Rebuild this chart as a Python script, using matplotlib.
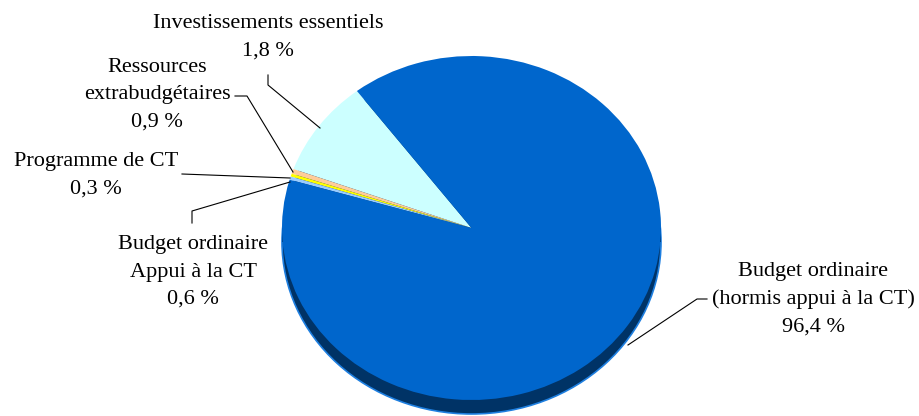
import matplotlib
matplotlib.use("Agg")
import matplotlib.pyplot as plt
from matplotlib.patches import Ellipse, Rectangle

# slices, in the order drawn counter-clockwise from the start angle
categories = ["Investissements essentiels", "Ressources extrabudgétaires",
              "Programme de CT", "Budget ordinaire Appui à la CT",
              "Budget ordinaire (hormis appui à la CT)"]
label_lines = ["Investissements essentiels", "Ressources\nextrabudgétaires",
               "Programme de CT", "Budget ordinaire\nAppui à la CT",
               "Budget ordinaire\n(hormis appui à la CT)"]
label_pct = [1.8, 0.9, 0.3, 0.6, 96.4]
# slice sizes as they appear in the picture (share of the disc)
slice_share = [9.1, 0.45, 0.28, 0.31, 89.86]
colors = ["#CCFFFF", "#FFCC99", "#FFFF00", "#99CCFF", "#0066CC"]

# pie geometry in pixels (top face)
CX, CY, RX, RY = 471.5, 228, 189.5, 172
DEPTH = 14 / RY


def px(x, y):
    """pixel position -> data coords of the pie axes"""
    return (x - CX) / RX, (CY - y) / RY


fig = plt.figure(figsize=(9.19, 4.16), dpi=100)
ax = fig.add_axes([0, 0, 1, 1])

# side of the 3d disc
ax.add_patch(Ellipse((0, -DEPTH), 2, 2, facecolor="#003366",
                     edgecolor="#1E7FE0", linewidth=1.2, zorder=0.5))
ax.add_patch(Rectangle((-1, -DEPTH), 2, DEPTH, facecolor="#003366",
                       edgecolor="none", zorder=0.6))

ax.pie(slice_share, colors=colors, startangle=127.2, counterclock=True,
       radius=1, wedgeprops={"linewidth": 0, "zorder": 1})

x0, _ = px(0, 0)
x1, _ = px(919, 0)
_, y0 = px(0, 416)
_, y1 = px(0, 0)
ax.set_xlim(x0, x1)
ax.set_ylim(y0, y1)
ax.set_aspect("auto")
ax.axis("off")

# label blocks: centre in pixels
label_pos = [(268, 37), (157, 95), (96, 175), (193, 272), (813, 299)]
for lab, pct, (lx, ly) in zip(label_lines, label_pct, label_pos):
    txt = lab + "\n" + f"{pct:.1f}".replace(".", ",") + " %"
    x, y = px(lx, ly)
    ax.text(x, y, txt, ha="center", va="center", fontsize=16,
            family="Liberation Serif", linespacing=1.6, color="black")

# leader lines (pixel paths)
leaders = [
    [(268, 75), (268, 85), (320, 128)],
    [(235, 96), (247, 96), (293, 172)],
    [(182, 174), (290, 178)],
    [(192, 223), (192, 211), (290, 182)],
    [(707, 299), (697, 299), (628, 345)],
]
for path in leaders:
    pts = [px(a, b) for a, b in path]
    ax.plot([p[0] for p in pts], [p[1] for p in pts], color="black",
            linewidth=0.8, zorder=3)

fig.savefig("out.png", dpi=100)
